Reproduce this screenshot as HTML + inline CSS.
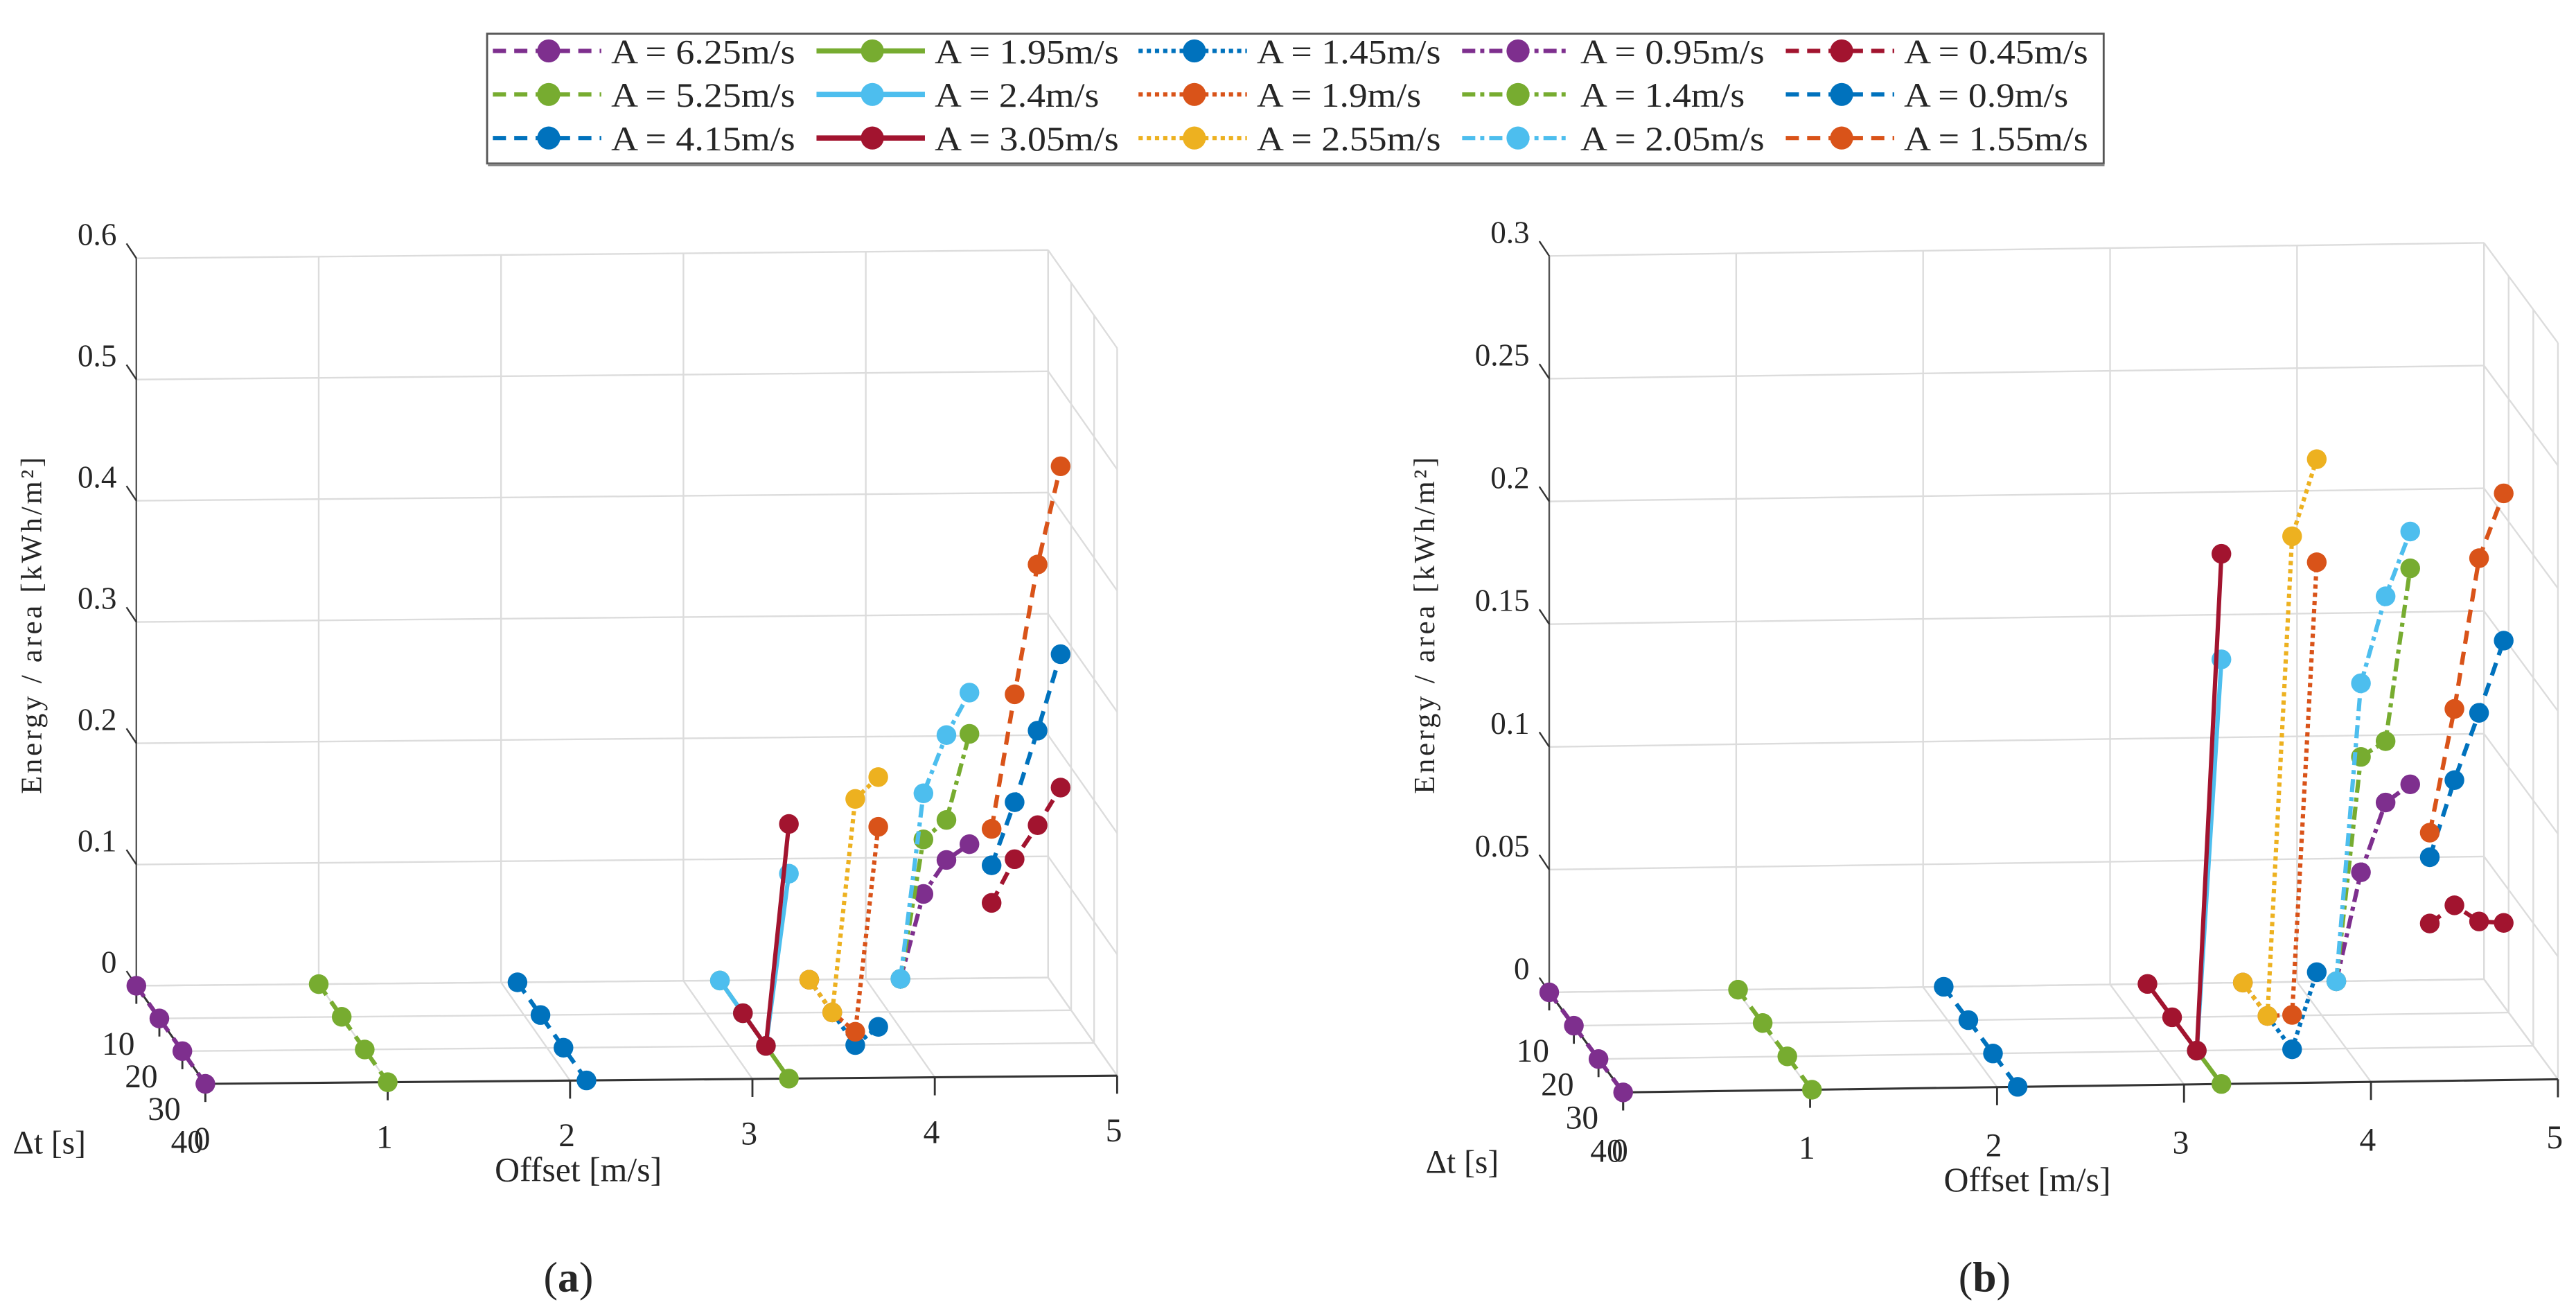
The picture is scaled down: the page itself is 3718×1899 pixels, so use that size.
<!DOCTYPE html>
<html><head><meta charset="utf-8"><style>
html,body{margin:0;padding:0;background:#fff;}
svg{display:block;}
text{font-family:"Liberation Serif",serif;fill:#262626;}
</style></head><body>
<svg id="fig" xmlns="http://www.w3.org/2000/svg" width="3718" height="1899" viewBox="0 0 1568 801" preserveAspectRatio="none"></svg>
<script>
// ---- data ----
const dtValues = [10, 20, 30, 40];
const amplitudes = ['6.25','5.25','4.15','1.95','2.4','3.05','1.45','1.9','2.55','0.95','1.4','2.05','0.45','0.9','1.55'];
const offsetsA = [0, 1, 2.09, 3.2, 3.2, 3.2, 3.69, 3.69, 3.69, 4.19, 4.19, 4.19, 4.69, 4.69, 4.69];
const offsetsB = [0, 1.01, 2.11, 3.2, 3.2, 3.2, 3.71, 3.71, 3.71, 4.21, 4.21, 4.21, 4.71, 4.71, 4.71];
const energyA625 = [0,0,0,0];
const energyA525 = [0,0,0,0];
const energyA415 = [0,0,0,0];
const energyA195 = [0,0,0,0];
const energyA24  = [0,0,0,0.169];
const energyA305 = [null,0,0,0.21];
const energyA145 = [0,0,0,0.042];
const energyA19  = [0,0,0.011,0.207];
const energyA255 = [0,0,0.203,0.248];
const energyA095 = [0,0.097,0.152,0.192];
const energyA14  = [0,0.142,0.185,0.283];
const energyA205 = [0,0.180,0.255,0.317];
const energyA045 = [0.062,0.125,0.180,0.238];
const energyA09  = [0.093,0.172,0.258,0.348];
const energyA155 = [0.123,0.261,0.395,0.503];
const energyB625 = [0,0,0,0];
const energyB525 = [0,0,0,0];
const energyB415 = [0,0,0,0];
const energyB195 = [null,null,0,0];
const energyB305 = [0,0,0,0.216];
const energyB24  = [null,null,0,0.173];
const energyB145 = [0,0,0,0.045];
const energyB19  = [0,0,0.014,0.212];
const energyB255 = [0,0,0.209,0.254];
const energyB095 = [0,0.058,0.100,0.121];
const energyB14  = [0,0.105,0.125,0.209];
const energyB205 = [0,0.135,0.184,0.224];
const energyB045 = [0.023,0.044,0.051,0.064];
const energyB09  = [0.050,0.095,0.136,0.179];
const energyB155 = [0.060,0.124,0.199,0.239];
const energiesA = [energyA625,energyA525,energyA415,energyA195,energyA24,energyA305,energyA145,energyA19,energyA255,energyA095,energyA14,energyA205,energyA045,energyA09,energyA155];
const energiesB = [energyB625,energyB525,energyB415,energyB195,energyB24,energyB305,energyB145,energyB19,energyB255,energyB095,energyB14,energyB205,energyB045,energyB09,energyB155];
const offsetTicks = [0,1,2,3,4,5];
const zTicksA = [0,0.1,0.2,0.3,0.4,0.5,0.6];
const zTickLabelsA = ['0','0.1','0.2','0.3','0.4','0.5','0.6'];
const zTicksB = [0,0.05,0.1,0.15,0.2,0.25,0.3];
const zTickLabelsB = ['0','0.05','0.1','0.15','0.2','0.25','0.3'];
const dtTickLabels = ['10','20','30','40'];

// ---- styles ----
const C = {purple:'#7E2F8E',green:'#77AC30',blue:'#0072BD',lblue:'#4DBEEE',red:'#A2142F',orange:'#D95319',yellow:'#EDB120'};
const DASH = '8,5', DOT = '2.6,2.4', DASHDOT = '8,3,2.5,3';
const seriesColor = [C.purple,C.green,C.blue,C.green,C.lblue,C.red,C.blue,C.orange,C.yellow,C.purple,C.green,C.lblue,C.red,C.blue,C.orange];
const seriesDash = [DASH,DASH,DASH,'','','',DOT,DOT,DOT,DASHDOT,DASHDOT,DASHDOT,DASH,DASH,DASH];

const NS = 'http://www.w3.org/2000/svg';
const svg = document.getElementById('fig');
function el(tag, attrs, parent){
  const e = document.createElementNS(NS, tag);
  for (const k in attrs) e.setAttribute(k, attrs[k]);
  (parent||svg).appendChild(e);
  return e;
}
function line(g,x1,y1,x2,y2,stroke,w){ return el('line',{x1:x1,y1:y1,x2:x2,y2:y2,stroke:stroke,'stroke-width':w},g); }

function drawPanel(P){
  const g = el('g',{});
  
  
  const proj = (o,t,z)=>[P.X0 + P.ox*o + P.tx*(t-10)/10, P.Y0 + P.oy*o + P.ty*(t-10)/10 - P.zs*z];
  const zmax = P.zTicks[P.zTicks.length-1];
  const GC = '#dcdcdc';
  const grid = el('g',{},g);
  
  
  // back wall
  offsetTicks.forEach(o=>{ const a=proj(o,10,0), b=proj(o,10,zmax); line(grid,a[0],a[1],b[0],b[1],GC,1); });
  P.zTicks.forEach(z=>{ const a=proj(0,10,z), b=proj(5,10,z); line(grid,a[0],a[1],b[0],b[1],GC,1); });
  // floor
  offsetTicks.forEach(o=>{ const a=proj(o,10,0), b=proj(o,40,0); line(grid,a[0],a[1],b[0],b[1],GC,1); });
  dtValues.forEach(t=>{ const a=proj(0,t,0), b=proj(5,t,0); line(grid,a[0],a[1],b[0],b[1],GC,1); });
  // right wall
  dtValues.forEach(t=>{ const a=proj(5,t,0), b=proj(5,t,zmax); line(grid,a[0],a[1],b[0],b[1],GC,1); });
  P.zTicks.forEach(z=>{ const a=proj(5,10,z), b=proj(5,40,z); line(grid,a[0],a[1],b[0],b[1],GC,1); });
  // axes
  const AX='#333';
  const axes = el('g',{},g);
  
  
  let a=proj(0,10,0), b=proj(0,10,zmax); line(axes,a[0],a[1],b[0],b[1],'#555',1);
  a=proj(0,10,0); b=proj(0,40,0); line(axes,a[0],a[1],b[0],b[1],AX,1.3);
  a=proj(0,40,0); b=proj(5,40,0); line(axes,a[0],a[1],b[0],b[1],AX,1.3);
  // offset ticks + labels
  offsetTicks.forEach(o=>{
    const p=proj(o,40,0); line(axes,p[0],p[1],p[0],p[1]+11,AX,1.2);
    const t=el('text',{x:p[0]-2,y:p[1]+P.olabDy,'font-size':20,'text-anchor':'middle'},axes);
    t.textContent=String(o);
    
    
  });
  // dt ticks + labels
  dtValues.forEach((t,i)=>{
    const p=proj(0,t,0); line(axes,p[0],p[1],p[0],p[1]+11,AX,1.2);
    const q=proj(0,t+10,0);
    const tx=el('text',{x:q[0]-25,y:q[1]+22,'font-size':20,'text-anchor':'middle'},axes);
    tx.textContent=dtTickLabels[i];
    
    
  });
  // z ticks + labels
  P.zTicks.forEach((z,i)=>{
    const p=proj(0,10,z); line(axes,p[0],p[1],p[0]-6,p[1]-9,AX,1);
    const tx=el('text',{x:p[0]-12,y:p[1]-8,'font-size':19,'text-anchor':'end'},axes);
    tx.textContent=P.zLabels[i];
    
    
  });
  // axis titles
  let t1=el('text',{x:P.dtTitle[0],y:P.dtTitle[1],'font-size':20,'text-anchor':'middle'},g);
  t1.textContent='Δt [s]';
  
  
  let t2=el('text',{x:P.oTitle[0],y:P.oTitle[1],'font-size':21,'text-anchor':'middle'},g);
  t2.textContent='Offset [m/s]';
  
  
  let t3=el('text',{x:0,y:0,'font-size':18,'text-anchor':'middle','letter-spacing':'1.6',transform:'translate('+P.zTitle[0]+','+P.zTitle[1]+') rotate(-90)'},g);
  t3.textContent='Energy / area [kWh/m²]';
  
  
  // series
  P.energies.forEach((E,si)=>{
    const sg=el('g',{},g);
    
    
    const pts=[];
    E.forEach((z,k)=>{ if(z!==null) pts.push(proj(P.offsets[si],dtValues[k],z)); });
    const attrs={points:pts.map(p=>p[0].toFixed(1)+','+p[1].toFixed(1)).join(' '),fill:'none',stroke:seriesColor[si],'stroke-width':2.6};
    if(seriesDash[si]) attrs['stroke-dasharray']=seriesDash[si];
    const pl=el('polyline',attrs,sg);
    
    
    pts.forEach(p=>{
      const c=el('circle',{cx:p[0],cy:p[1],r:6,fill:seriesColor[si]},sg);
      
      
    });
  });
  // caption
  const cap=el('text',{x:P.cap[0],y:P.cap[1],'font-size':26,'text-anchor':'middle'},g);
  
  
  cap.innerHTML='(<tspan font-weight="bold">'+P.capLetter+'</tspan>)';
}

drawPanel({name:'panel-a',X0:83,Y0:600,ox:111,oy:-1,tx:14,ty:19.9,zs:738,offsets:offsetsA,energies:energiesA,
  zTicks:zTicksA,zLabels:zTickLabelsA,olabDy:40,dtTitle:[30,702],oTitle:[352,719],zTitle:[25,380],cap:[346,786],capLetter:'a'});
drawPanel({name:'panel-b',X0:943,Y0:604,ox:113.8,oy:-1.6,tx:15,ty:20.3,zs:1494,offsets:offsetsB,energies:energiesB,
  zTicks:zTicksB,zLabels:zTickLabelsB,olabDy:42,dtTitle:[890,714],oTitle:[1234,725],zTitle:[873,380],cap:[1208,786],capLetter:'b'});

// ---- legend ----
const lg=el('g',{});


el('rect',{x:296.5,y:20.5,width:984,height:79,fill:'#fff',stroke:'#555','stroke-width':1.2},lg);
line(lg,297,100.5,1281,100.5,'#888',1.5);
const legendCols=[300,497,693,890,1087];
const legendRows=[31,57.5,84];
const legendOrder=[[0,3,6,9,12],[1,4,7,10,13],[2,5,8,11,14]];
legendOrder.forEach((row,r)=>{
  row.forEach((si,c)=>{
    const x=legendCols[c], y=legendRows[r];
    const e=el('g',{},lg);
    
    
    const la={x1:x,y1:y,x2:x+66,y2:y,stroke:seriesColor[si],'stroke-width':seriesDash[si]?2.6:3.2};
    if(seriesDash[si]) la['stroke-dasharray']=seriesDash[si];
    el('line',la,e);
    el('circle',{cx:x+34,cy:y,r:7,fill:seriesColor[si]},e);
    const t=el('text',{x:x+72,y:y+7.5,'font-size':21,textLength:amplitudes[si].length>3?112:100,lengthAdjust:'spacingAndGlyphs'},e);
    t.textContent='A = '+amplitudes[si]+'m/s';
  });
});
</script>
</body></html>
